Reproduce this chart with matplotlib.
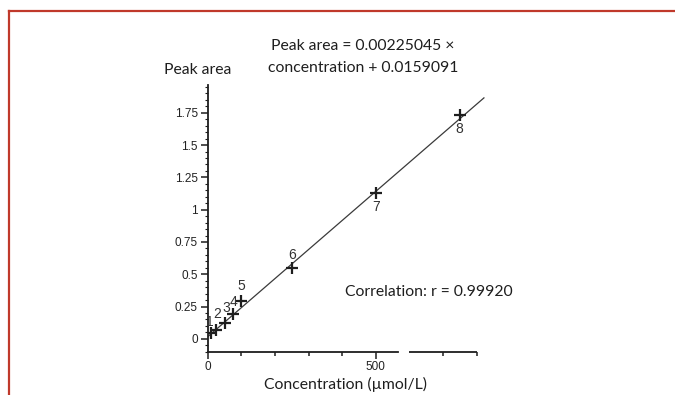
import numpy as np
import matplotlib
matplotlib.use("Agg")
from matplotlib import pyplot as plt
from matplotlib.lines import Line2D
from matplotlib.ticker import MultipleLocator, FixedLocator

# calibration standards
conc = [10, 25, 50, 75, 100, 250, 500, 750]
area = [0.044, 0.070, 0.126, 0.191, 0.289, 0.547, 1.132, 1.734]
point_labels = ["1", "2", "3", "4", "5", "6", "7", "8"]

slope = 0.00225045
intercept = 0.0159091
r_value = "0.99920"

# label offsets in points (dx, dy)
label_offsets = [(-1, 8), (1, 11), (1, 10.5), (0.7, 9), (0, 11), (0, 9.5), (0, -10), (0, -10)]

text_font = ["Lato", "DejaVu Sans"]
tick_font = ["Liberation Sans", "DejaVu Sans"]
ink = "#1e1e1e"

fig = plt.figure(figsize=(6.75, 3.95), dpi=100)
ax = fig.add_axes([0.3077, 0.1096, 0.4182, 0.675])

# regression line
xfit = np.array([0, 822])
ax.plot(xfit, slope * xfit + intercept, color="#3a3a3a", lw=0.9, zorder=2)

ax.plot(conc, area, linestyle="none", marker="+", ms=8, mew=1.6,
        color=ink, zorder=3)

for x, y, lab, off in zip(conc, area, point_labels, label_offsets):
    ax.annotate(lab, (x, y), xytext=off, textcoords="offset points",
                ha="center", va="center", fontsize=10, color="#333333",
                family=tick_font)

ax.set_xlim(0, 840)
ax.set_ylim(-0.1, 1.965)

for s in ["top", "right"]:
    ax.spines[s].set_visible(False)
ax.spines["left"].set_linewidth(1.3)
ax.spines["bottom"].set_linewidth(1.3)
ax.spines["left"].set_color(ink)
ax.spines["bottom"].set_color(ink)

# broken bottom axis
ax.spines["bottom"].set_bounds(0, 565)
ax.plot([600, 800], [-0.1, -0.1], color=ink, lw=1.3, clip_on=False,
        solid_capstyle="butt", zorder=4)

ax.xaxis.set_major_locator(FixedLocator([0, 500]))
ax.xaxis.set_minor_locator(FixedLocator([100, 200, 300, 400, 700, 800]))
ax.yaxis.set_major_locator(MultipleLocator(0.25))
ax.yaxis.set_minor_locator(MultipleLocator(0.05))
ax.tick_params(axis="both", which="major", length=5, width=1.1, color=ink,
               labelsize=8.5, labelcolor="#222222", pad=2)
ax.tick_params(axis="x", which="minor", length=3, width=1.1, color=ink)
ax.tick_params(axis="y", which="minor", length=2.5, width=0.8, color=ink)

ax.set_yticks([0, 0.25, 0.5, 0.75, 1, 1.25, 1.5, 1.75])
ax.set_yticklabels(["0", "0.25", "0.5", "0.75", "1", "1.25", "1.5", "1.75"])
ax.set_xticklabels(["0", "500"])
for t in ax.get_xticklabels() + ax.get_yticklabels():
    t.set_family(tick_font)

fs = 11.3
fig.text(198 / 675, 1 - 70 / 395, "Peak area", ha="center", va="center",
         fontsize=fs, color=ink, family=text_font)
fig.text(363 / 675, 1 - 46 / 395, "Peak area = 0.00225045 \u00d7",
         ha="center", va="center", fontsize=fs, color=ink, family=text_font)
fig.text(363 / 675, 1 - 68 / 395, "concentration + 0.0159091",
         ha="center", va="center", fontsize=fs, color=ink, family=text_font)
fig.text(429 / 675, 1 - 292 / 395, "Correlation: r = " + r_value,
         ha="center", va="center", fontsize=fs, color=ink, family=text_font)
fig.text(345 / 675, 1 - 384 / 395, "Concentration (\u00b5mol/L)",
         ha="center", va="center", fontsize=fs, color=ink, family=text_font)

# red frame around the figure panel
red = "#c0392b"
fig.add_artist(Line2D([8.5 / 675, 1], [1 - 10.5 / 395, 1 - 10.5 / 395],
                      color=red, lw=1.6, transform=fig.transFigure))
fig.add_artist(Line2D([8.5 / 675, 8.5 / 675], [1 - 10.5 / 395, 0],
                      color=red, lw=1.6, transform=fig.transFigure))

fig.savefig("out.png", dpi=100)
